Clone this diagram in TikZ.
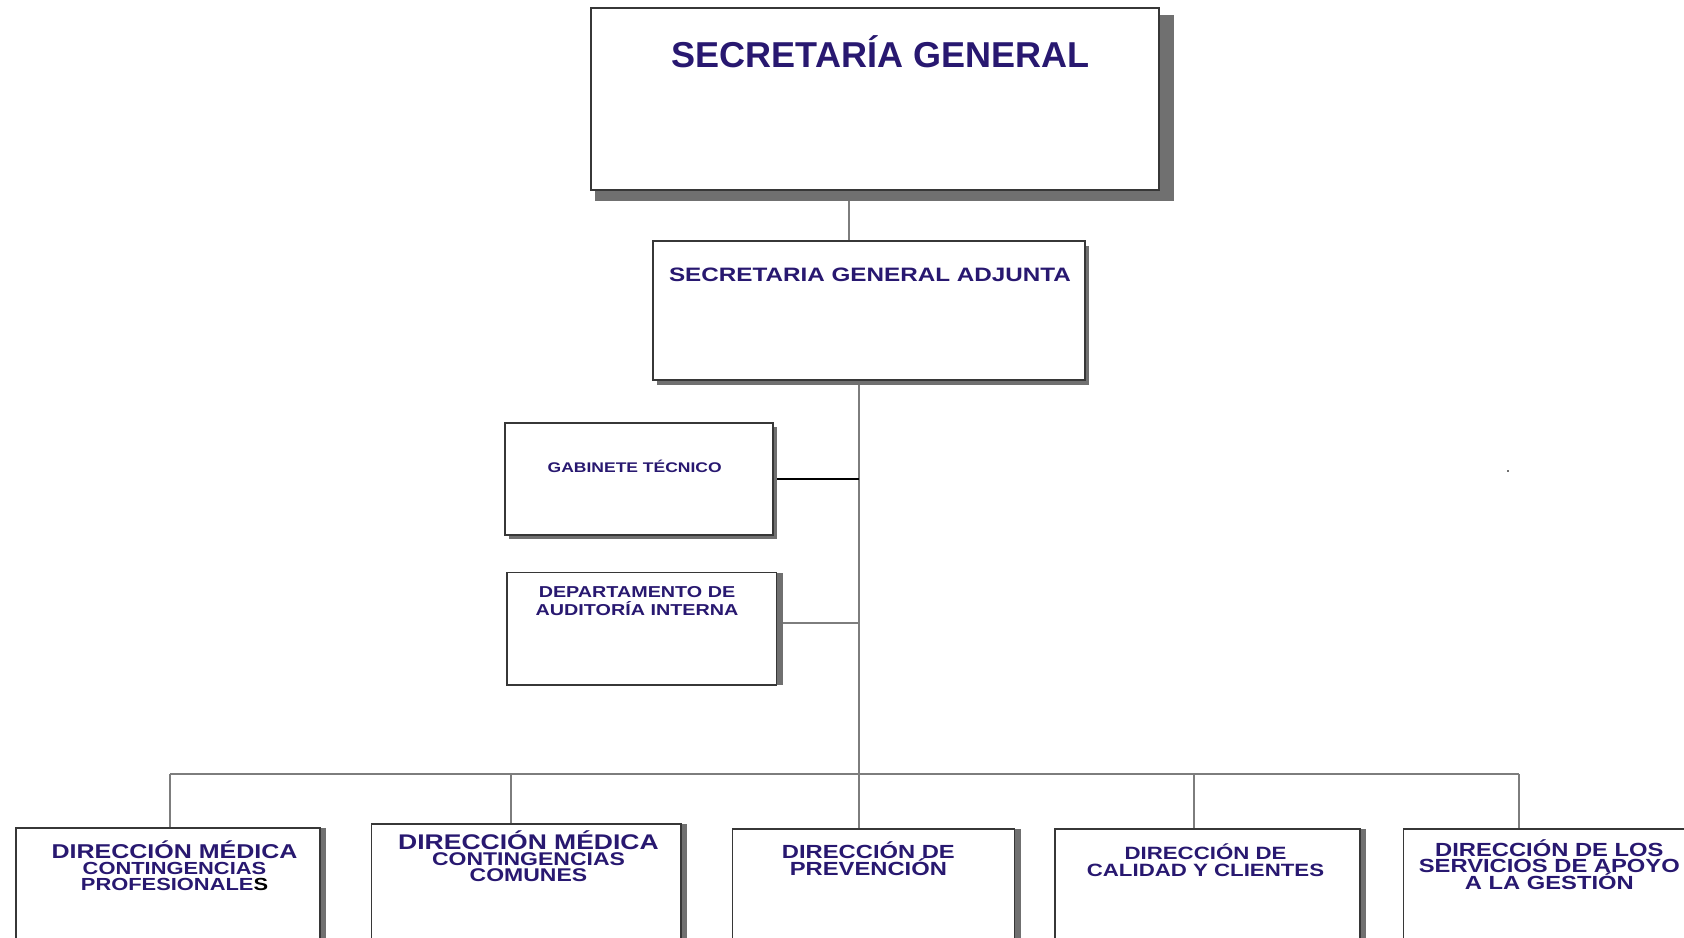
\documentclass[tikz,border=0pt]{standalone}
\usepackage{fontspec}
\usetikzlibrary{positioning, shadows, backgrounds}
\setmainfont{Liberation Sans}
\newfontfamily\widefont{Liberation Sans}[FakeStretch=1.25]
\definecolor{mynavy}{RGB}{40, 24, 112}
\definecolor{myshadow}{RGB}{112, 112, 112}
\definecolor{myline}{RGB}{55, 55, 55}
\definecolor{mylink}{RGB}{125, 125, 125}
\lineskiplimit=-100pt

\tikzset{
	orgbox/.style={draw=myline, fill=white, line width=0.6pt, inner sep=0pt},
	shadowed/.style 2 args={drop shadow={shadow xshift=#1, shadow yshift=#2, fill=myshadow, opacity=1}},
	orgtext/.style={text=mynavy, align=center, anchor=north, inner sep=0pt, execute at begin node={\vphantom{Ó}}},
	orglink/.style={draw=mylink, line width=0.75pt}
}

\begin{document}
\begin{tikzpicture}[x=0.5pt, y=-0.5pt]
	
	\useasboundingbox (0,0) rectangle (1684,937);
	\clip (0,0) rectangle (1684,937);
	
	% boxes
	\node[orgbox, minimum width=284pt, minimum height=91pt,
		drop shadow={shadow xshift=4.5pt, shadow yshift=-4.5pt, shadow scale=1.02, fill=myshadow, opacity=1}] (sg) at (875,99) {};
	\node[orgbox, shadowed={2pt}{-2.5pt}, minimum width=216pt, minimum height=69.5pt] (sga) at (869,310.5) {};
	\node[orgbox, shadowed={1.75pt}{-1.75pt}, minimum width=134pt, minimum height=56pt] (gab) at (639,479) {};
	\node[orgbox, shadowed={3.25pt}{0pt}, minimum width=134.75pt, minimum height=56.25pt] (aud) at (641.75,628.75) {};
	
	% bottom row
	\foreach \name/\cx/\cy/\w in {
		b1/168/928/152,
		b2/526.3/924/154.7,
		b3/873.5/929/141,
		b4/1207.5/929/152.5,
		b5/1548.8/929/145
	}{
		\node[orgbox, shadowed={3.2pt}{0pt}, minimum width=\w pt, minimum height=100pt] (\name) at (\cx,\cy) {};
	}
	
	% texts
	\node[orgtext, font=\bfseries\fontsize{18}{20}\selectfont] (sgt) at ([shift={(5.5,27.5)}]sg.north) {SECRETARÍA GENERAL};
	\node[orgtext, font=\widefont\bfseries\fontsize{9.7}{10}\selectfont] (sgat) at ([shift={(1,23.3)}]sga.north) {SECRETARIA GENERAL ADJUNTA};
	\node[orgtext, font=\widefont\bfseries\fontsize{7}{8}\selectfont] (gabt) at ([shift={(-4.3,36.8)}]gab.north) {GABINETE TÉCNICO};
	\node[orgtext, font=\widefont\bfseries\fontsize{7.9}{9.15}\selectfont] (audt) at ([shift={(-4.75,14)}]aud.north) {DEPARTAMENTO DE\\AUDITORÍA INTERNA};
	
	\node[orgtext, font=\widefont\bfseries\fontsize{10}{8}\selectfont] (b1t) at ([shift={(6.5,12.8)}]b1.north)
		{DIRECCIÓN MÉDICA\\\fontsize{8.75}{8}\selectfont CONTINGENCIAS\\\fontsize{8.75}{8}\selectfont PROFESIONALE{\color{black}S}};
	\node[orgtext, font=\widefont\bfseries\fontsize{10.6}{8.1}\selectfont] (b2t) at ([shift={(2.2,6.5)}]b2.north)
		{DIRECCIÓN MÉDICA\\\fontsize{9.2}{8}\selectfont CONTINGENCIAS\\\fontsize{9.2}{8}\selectfont COMUNES};
	\node[orgtext, font=\widefont\bfseries\fontsize{9.5}{8.5}\selectfont] (b3t) at ([shift={(-5.1,12.4)}]b3.north)
		{DIRECCIÓN DE\\PREVENCIÓN};
	\node[orgtext, font=\widefont\bfseries\fontsize{8.9}{8.75}\selectfont] (b4t) at ([shift={(-2,14.6)}]b4.north)
		{DIRECCIÓN DE\\CALIDAD Y CLIENTES};
	\node[orgtext, font=\widefont\bfseries\fontsize{9.5}{8.25}\selectfont] (b5t) at ([shift={(0.5,10.4)}]b5.north)
		{DIRECCIÓN DE LOS\\SERVICIOS DE APOYO\\A LA GESTIÓN};
	
	% stray dot
	\fill[myshadow] (1507,470) rectangle (1509,472);
	
	% connectors
	\begin{scope}[on background layer]
	\coordinate (bus) at (0,774);
	\coordinate (s1) at ([shift={(-26,0)}]sg.south);
	\draw[orglink] (s1) -- (s1 |- sga.north);
	\coordinate (trunk) at ([shift={(-10,0)}]sga.south);
	\draw[orglink] (trunk) -- (trunk |- b3.north);
	\draw[orglink, draw=black] (gab.east) -- (gab.east -| trunk);
	\coordinate (audlink) at ([shift={(0,-6)}]aud.east);
	\draw[orglink] (audlink) -- (audlink -| trunk);
	\foreach \name/\dx in {b1/2, b2/-15.3, b4/-13.5, b5/-29.8}{
		\coordinate (top\name) at ([shift={(\dx,0)}]\name.north);
		\draw[orglink] (top\name) -- (top\name |- bus);
	}
	\draw[orglink] (topb1 |- bus) -- (topb5 |- bus);
	\end{scope}
	
\end{tikzpicture}
\end{document}
